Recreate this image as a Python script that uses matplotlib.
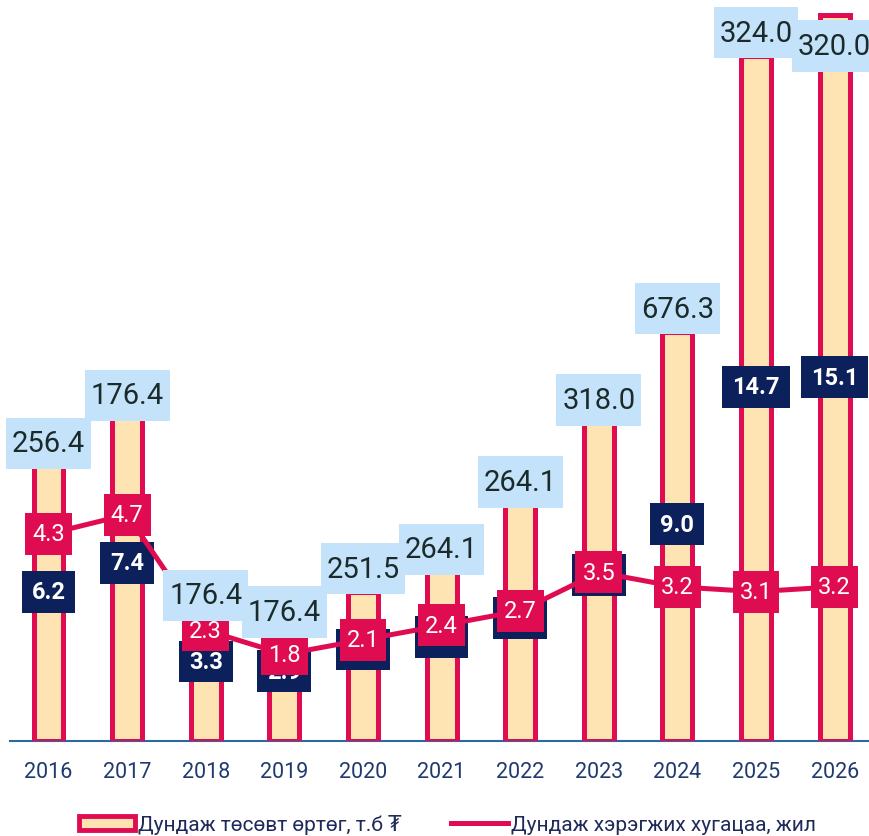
import matplotlib
matplotlib.use("Agg")
import matplotlib.pyplot as plt
from matplotlib.path import Path
from matplotlib.patches import Patch
from matplotlib.lines import Line2D

FAM = ['Roboto', 'DejaVu Sans']
plt.rcParams['font.family'] = FAM

years = ['2016', '2017', '2018', '2019', '2020', '2021', '2022', '2023', '2024', '2025', '2026']
bar_heights = [11.4, 13.4, 5.1, 4.4, 6.2, 7.0, 9.8, 13.2, 17.0, 28.45, 30.15]
cost_labels = ['256.4', '176.4', '176.4', '176.4', '251.5', '264.1', '264.1', '318.0', '676.3', '324.0', '320.0']
navy_values = [6.2, 7.4, 3.3, 2.9, 3.8, 4.3, 5.1, 6.9, 9.0, 14.7, 15.1]
duration = [4.3, 4.7, 2.3, 1.8, 2.1, 2.4, 2.7, 3.5, 3.2, 3.1, 3.2]

legend_bar = 'Дундаж төсөвт өртөг, т.б ₮'
legend_line = 'Дундаж хэрэгжих хугацаа, жил'

BAR_FILL = '#FFE4B3'
CRIMSON = '#E00C52'
NAVY = '#0C205C'
LIGHTBLUE = '#C4E3FA'
BASE = '#2D6A9C'


def rect_box(padx, pady):
    def f(x0, y0, width, height, mutation_size):
        px = padx * mutation_size
        py = pady * mutation_size
        x0 -= px
        y0 -= py
        x1 = x0 + width + 2 * px
        y1 = y0 + height + 2 * py
        return Path([(x0, y0), (x1, y0), (x1, y1), (x0, y1), (x0, y0)], closed=True)
    return f


fig = plt.figure(figsize=(8.7, 8.37), dpi=100)
ax = fig.add_axes([10 / 870, 95 / 837, 860 / 870, 737 / 837])
ax2 = ax.twinx()

x = list(range(len(years)))
YMAX = 30.6
ax.set_ylim(0, YMAX)
ax2.set_ylim(0, YMAX / 2)
ax.set_xlim(-0.49, 10.45)

ax.bar(x, bar_heights, width=0.38, color=BAR_FILL, edgecolor=CRIMSON,
       linewidth=3.6, zorder=3)

for a in (ax, ax2):
    for s in a.spines.values():
        s.set_visible(False)
    a.set_yticks([])
ax.spines['bottom'].set_visible(True)
ax.spines['bottom'].set_color(BASE)
ax.spines['bottom'].set_linewidth(1.5)
ax.spines['bottom'].set_zorder(2)

ax.set_xticks(x)
ax.set_xticklabels(years, fontsize=15.5, color='#1F3A6E')
ax.tick_params(axis='x', length=0, pad=14.5)

# navy labels on primary axis
for i, v in enumerate(navy_values):
    ax.text(i, v, f'{v:.1f}', ha='center', va='center', fontsize=17,
            fontweight='bold', color='white', zorder=5,
            bbox=dict(boxstyle=rect_box(0.42, 0.40), fc=NAVY, ec='none'))

# duration line on secondary axis
ax2.set_zorder(ax.get_zorder() + 1)
ax2.patch.set_visible(False)
ax2.plot(x, duration, color=CRIMSON, linewidth=3.6, zorder=6,
         solid_capstyle='round')
for i, v in enumerate(duration):
    ax2.text(i, v, f'{v:.1f}', ha='center', va='center', fontsize=17,
             color='white', zorder=7,
             bbox=dict(boxstyle=rect_box(0.30, 0.40), fc=CRIMSON, ec='none'))

# cost labels above bars
box_px = 47 / 24.08
for i, (h, lab) in enumerate(zip(bar_heights, cost_labels)):
    if h + box_px > YMAX:
        xy, off = (i, YMAX), -42
    else:
        xy, off = (i, h), 23
    ax2.annotate(lab, xy=(xy[0], xy[1] / 2), xytext=(0, off),
                 textcoords='offset pixels', ha='center', va='center',
                 fontsize=21, color='#1B2B2B', zorder=9,
                 bbox=dict(boxstyle=rect_box(0.20, 0.40), fc=LIGHTBLUE, ec='none'),
                 annotation_clip=False)

handles = [Patch(facecolor=BAR_FILL, edgecolor=CRIMSON, linewidth=3.5, joinstyle='round'),
           Line2D([0], [0], color=CRIMSON, linewidth=3.6)]
fig.legend(handles, [legend_bar, legend_line], loc='center',
           bbox_to_anchor=(0.514, 0.014), ncol=2, frameon=False,
           fontsize=15, labelcolor='#1F2A5A', handlelength=2.7,
           handleheight=0.65, handletextpad=0.15, columnspacing=2.4,
           borderpad=0)

fig.savefig('out.png', dpi=100)
